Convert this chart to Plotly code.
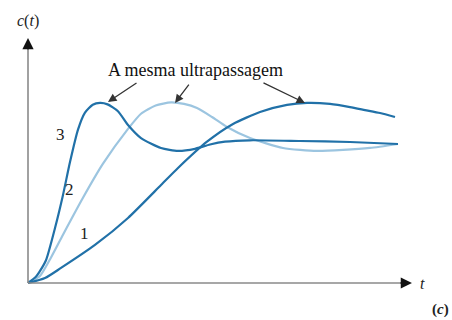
import plotly.graph_objects as go

# Step responses of three systems sharing the same percent overshoot
t3 = [0, 0.2, 0.3, 0.486, 0.73, 0.946, 1.135, 1.351, 1.54, 1.75, 1.946, 2.15, 2.432, 2.703,
      3.054, 3.595, 4.054, 4.514, 4.919, 5.324, 6.0, 7.351, 8.703, 10.0]
c3 = [0, 0.04, 0.075, 0.160, 0.387, 0.62, 0.852, 1.080, 1.200, 1.255, 1.268, 1.258, 1.21,
      1.113, 1.021, 0.951, 0.930, 0.945, 0.975, 0.995, 1.005, 1.0, 0.993, 0.979]

t2 = [0, 0.324, 0.622, 0.946, 1.486, 2.027, 2.703, 3.054, 3.45, 3.865, 4.216, 4.568, 4.973,
      5.378, 6.0, 6.892, 7.811, 8.514, 9.243, 10.0]
c2 = [0, 0.050, 0.180, 0.340, 0.600, 0.840, 1.085, 1.192, 1.250, 1.272, 1.261, 1.232, 1.169,
      1.099, 1.021, 0.951, 0.930, 0.937, 0.951, 0.979]

t1 = [0, 0.46, 0.892, 1.81, 2.703, 3.595, 4.054, 4.838, 5.541, 6.27, 7.0, 7.541, 8.162,
      8.703, 9.108, 9.514, 9.919]
c1 = [0, 0.035, 0.106, 0.268, 0.458, 0.690, 0.810, 0.995, 1.120, 1.204, 1.254, 1.268, 1.261,
      1.239, 1.218, 1.197, 1.169]

curve_labels = ["1", "2", "3"]
label_t = [1.54, 1.12, 0.865]
label_c = [0.352, 0.655, 1.045]

caption = "A mesma ultrapassagem"
peak_t = [2.162, 3.973, 7.486]
peak_c = [1.275, 1.268, 1.268]
tail_t = [2.973, 4.378, 6.324]
tail_c = [1.415, 1.408, 1.415]

DARK = "#2171a8"
LIGHT = "#9cc5e0"
SERIF = "Liberation Serif"

fig = go.Figure()
for tt, cc, col in [(t2, c2, LIGHT), (t1, c1, DARK), (t3, c3, DARK)]:
    fig.add_trace(go.Scatter(x=tt, y=cc, mode="lines",
                             line=dict(color=col, width=2.2, shape="spline", smoothing=0.6),
                             hoverinfo="skip", showlegend=False))

# axes drawn as gray lines ending in black arrowheads
x_tip, y_tip = 10.378, 1.725
fig.add_shape(type="line", x0=0, y0=0, x1=x_tip - 0.2, y1=0,
              line=dict(color="#8a8a8a", width=1.6))
fig.add_shape(type="line", x0=0, y0=0, x1=0, y1=y_tip - 0.05,
              line=dict(color="#8a8a8a", width=1.6))
fig.add_annotation(x=x_tip, y=0, ax=x_tip - 0.35, ay=0, axref="x", ayref="y",
                   xref="x", yref="y", text="", showarrow=True, arrowhead=2,
                   arrowsize=1.4, arrowwidth=1.6, arrowcolor="#111")
fig.add_annotation(x=0, y=y_tip, ax=0, ay=y_tip - 0.09, axref="x", ayref="y",
                   xref="x", yref="y", text="", showarrow=True, arrowhead=2,
                   arrowsize=1.4, arrowwidth=1.6, arrowcolor="#111")

# pointers to the common peak
for px, py, qx, qy in zip(peak_t, peak_c, tail_t, tail_c):
    fig.add_annotation(x=px, y=py, ax=qx, ay=qy, axref="x", ayref="y",
                       xref="x", yref="y", text="", showarrow=True, arrowhead=2,
                       arrowsize=1.3, arrowwidth=1.3, arrowcolor="#333", standoff=0)

fig.add_annotation(x=4.514, y=1.5, text=caption, showarrow=False,
                   font=dict(family=SERIF, size=18, color="#111"))

for lab, lt, lc in zip(curve_labels, label_t, label_c):
    fig.add_annotation(x=lt, y=lc, text=lab, showarrow=False,
                       font=dict(family=SERIF, size=17, color="#222"))

fig.add_annotation(x=0, y=1.845, text="<i>c</i>(<i>t</i>)", showarrow=False,
                   font=dict(family=SERIF, size=16, color="#222"))
fig.add_annotation(x=10.65, y=-0.007, text="<i>t</i>", showarrow=False,
                   font=dict(family=SERIF, size=16, color="#222"))
fig.add_annotation(x=11.16, y=-0.19, text="<b>(<i>c</i>)</b>", showarrow=False,
                   font=dict(family=SERIF, size=15, color="#222"))

fig.update_layout(
    width=452, height=320, margin=dict(l=0, r=0, t=0, b=0),
    paper_bgcolor="white", plot_bgcolor="white",
    font=dict(family=SERIF),
    xaxis=dict(range=[-0.7568, 11.4595], visible=False, fixedrange=True),
    yaxis=dict(range=[-0.2606, 1.9930], visible=False, fixedrange=True),
)

fig.write_html("out.html")
